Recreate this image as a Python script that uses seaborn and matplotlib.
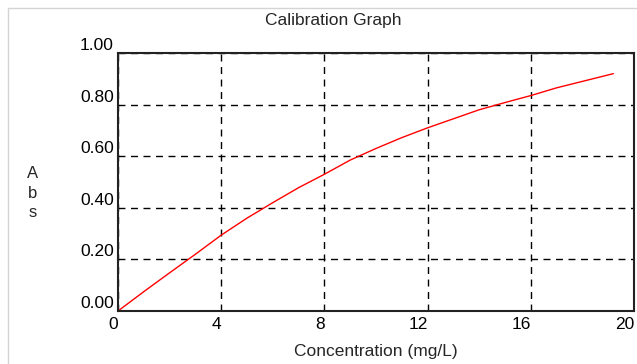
import matplotlib
matplotlib.use("Agg")
import matplotlib.pyplot as plt
from matplotlib.lines import Line2D
import seaborn as sns
import pandas as pd

# Calibration curve: absorbance vs concentration
concentration = [0, 1, 2, 3, 4, 5, 6, 7, 8, 9, 10, 11, 12, 13, 14, 15, 16, 17, 18, 19, 19.2]
absorbance = [0.0, 0.075, 0.148, 0.22, 0.294, 0.36, 0.42, 0.478, 0.53, 0.585, 0.63,
              0.672, 0.71, 0.745, 0.78, 0.808, 0.835, 0.865, 0.89, 0.915, 0.92]
x_ticks = [0, 4, 8, 12, 16, 20]
y_ticks = [0.0, 0.2, 0.4, 0.6, 0.8, 1.0]

sns.set_style("white")
plt.rcParams["font.family"] = ["Liberation Sans", "DejaVu Sans"]

df = pd.DataFrame({"conc": concentration, "abs": absorbance})

fig = plt.figure(figsize=(6.37, 3.64), dpi=100)
ax = fig.add_axes([118 / 637, 1 - 311 / 364, (634 - 118) / 637, (311 - 53) / 364])

sns.lineplot(data=df, x="conc", y="abs", color="#ff0000", linewidth=1.0, ax=ax)

ax.set_xlim(0, 20)
ax.set_ylim(0, 1.0)
ax.set_xticks(x_ticks)
ax.set_yticks(y_ticks)
ax.set_xticklabels([str(t) for t in x_ticks])
ax.set_yticklabels([f"{t:.2f}" for t in y_ticks])
for lab in ax.get_yticklabels():
    lab.set_verticalalignment("bottom")
for lab in ax.get_xticklabels():
    lab.set_horizontalalignment("right")
ax.tick_params(axis="both", length=0, labelsize=12.5, colors="#000000", pad=3)
ax.tick_params(axis="x", pad=4)

ax.grid(True, color="#000000", linestyle=(0, (5, 4)), linewidth=1.0)
ax.set_axisbelow(True)
for side in ["left", "right", "top", "bottom"]:
    ax.spines[side].set_visible(True)
    ax.spines[side].set_color("#222222")
    ax.spines[side].set_linewidth(1.5)

ax.set_xlabel("Concentration (mg/L)", fontsize=12.5, labelpad=9)
ax.set_ylabel("")
fig.text(333 / 637, 1 - 20 / 364, "Calibration Graph", ha="center", va="center", fontsize=12.5)
fig.text(33 / 637, 1 - 193 / 364, "A\nb\ns", ha="center", va="center", fontsize=12,
         linespacing=1.35)

# thin panel border on left and top
fig.add_artist(Line2D([8 / 637, 8 / 637], [0, 1 - 8 / 364], transform=fig.transFigure,
                      color="#d4d4d4", linewidth=1.0))
fig.add_artist(Line2D([8 / 637, 1], [1 - 8 / 364, 1 - 8 / 364], transform=fig.transFigure,
                      color="#d4d4d4", linewidth=1.0))

fig.savefig("out.png", dpi=100)
